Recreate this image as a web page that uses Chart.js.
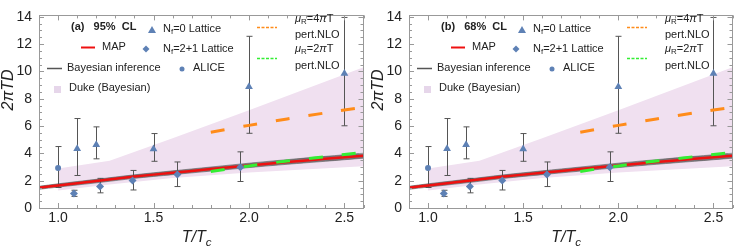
<!DOCTYPE html>
<html>
<head>
<meta charset="utf-8">
<script src="https://cdn.jsdelivr.net/npm/chart.js@4/dist/chart.umd.min.js"></script>
<style>
  body { margin: 0; background: #fff; width: 737px; height: 248px; position: relative; overflow: hidden; }
  canvas { position: absolute; top: 0; }
</style>
</head>
<body>
<canvas id="chartA" width="368" height="248" style="left:0"></canvas>
<canvas id="chartB" width="367" height="248" style="left:370px"></canvas>
<script>
// ---- data ----
const xTicks = [1.0, 1.5, 2.0, 2.5];
const yTicks = [0, 2, 4, 6, 8, 10, 12, 14];

// MAP curve and Bayesian (grey) band
const tGrid = [0.9, 1.0, 1.2, 1.4, 1.6, 1.8, 2.0, 2.2, 2.4, 2.6];
const mapCurve = [1.48, 1.65, 1.97, 2.30, 2.58, 2.85, 3.12, 3.37, 3.60, 3.83];
const bayesHi = [1.59, 1.77, 2.10, 2.43, 2.72, 3.00, 3.28, 3.54, 3.78, 4.01];
const bayesLo = [1.37, 1.53, 1.84, 2.17, 2.44, 2.70, 2.96, 3.20, 3.42, 3.65];

// Duke (Bayesian) band
const dukeT = [1.0, 1.27, 1.6, 2.0, 2.6];
const dukeHi = [2.9, 3.45, 5.1, 7.15, 10.3];
const dukeLo = [1.28, 1.72, 2.2, 2.6, 3.05];

// perturbative NLO
const nloT = [1.8, 2.0, 2.2, 2.4, 2.6];
const nlo4pi = [5.55, 6.05, 6.52, 6.96, 7.38];
const nlo2pi = [2.68, 3.08, 3.44, 3.76, 4.07];

// lattice and ALICE points with error ranges
const nf0T = [1.1, 1.2, 1.5, 2.0, 2.5];
const nf0D = [4.33, 4.63, 4.32, 8.88, 9.85];
const nf0Lo = [2.38, 3.60, 3.42, 5.47, 6.02];
const nf0Hi = [6.55, 5.94, 5.45, 12.57, 13.95];

const nf21T = [1.083, 1.22, 1.39, 1.625, 1.955];
const nf21D = [1.06, 1.57, 2.01, 2.45, 2.98];
const nf21Lo = [0.85, 1.11, 1.32, 1.57, 1.94];
const nf21Hi = [1.30, 2.17, 2.75, 3.37, 4.11];

const aliceT = [1.0];
const aliceD = [2.93];
const aliceLo = [1.5];
const aliceHi = [4.5];

const blue = '#5e81b5';
const FONT = "'Liberation Sans', Arial, sans-serif";

function pts(xs, ys) {
  return xs.map((x, i) => ({ x: x, y: ys[i] }));
}
function errPts(xs, ys, lo, hi) {
  return xs.map((x, i) => ({ x: x, y: ys[i], lo: lo[i], hi: hi[i] }));
}

// draw a run of text pieces, some italic or subscript
function richText(ctx, x, y, parts, size) {
  ctx.save();
  ctx.textBaseline = 'middle';
  ctx.textAlign = 'left';
  ctx.fillStyle = '#222';
  parts.forEach(p => {
    const s = p.sub ? size * 0.72 : size;
    ctx.font = (p.italic ? 'italic ' : '') + (p.bold ? 'bold ' : '') + s + 'px ' + FONT;
    const dy = p.sub ? size * 0.28 : 0;
    ctx.fillText(p.t, x, y + dy);
    x += ctx.measureText(p.t).width;
  });
  ctx.restore();
}

function drawLegend(ctx, panelLabel) {
  const fs = 11;
  richText(ctx, 71, 27, [{ t: panelLabel, bold: true }], fs);

  // Nf=0 triangle
  ctx.fillStyle = blue;
  ctx.beginPath();
  ctx.moveTo(152, 26); ctx.lineTo(156, 33); ctx.lineTo(148, 33); ctx.closePath();
  ctx.fill();
  richText(ctx, 163, 29, [{ t: 'N' }, { t: 'f', sub: true }, { t: '=0 Lattice' }], fs);

  // MAP
  ctx.strokeStyle = '#ee1111'; ctx.lineWidth = 2;
  ctx.beginPath(); ctx.moveTo(81, 47.5); ctx.lineTo(95, 47.5); ctx.stroke();
  richText(ctx, 102, 47, [{ t: 'MAP' }], fs);

  // Nf=2+1 diamond
  ctx.fillStyle = blue;
  ctx.beginPath();
  ctx.moveTo(146, 45.5); ctx.lineTo(149.5, 49); ctx.lineTo(146, 52.5); ctx.lineTo(142.5, 49); ctx.closePath();
  ctx.fill();
  richText(ctx, 163, 49, [{ t: 'N' }, { t: 'f', sub: true }, { t: '=2+1 Lattice' }], fs);

  // Bayesian inference
  ctx.strokeStyle = '#555'; ctx.lineWidth = 1.5;
  ctx.beginPath(); ctx.moveTo(47, 68.5); ctx.lineTo(62, 68.5); ctx.stroke();
  richText(ctx, 67, 68, [{ t: 'Bayesian inference' }], fs);

  // ALICE
  ctx.fillStyle = blue;
  ctx.beginPath(); ctx.arc(182, 69, 2.5, 0, Math.PI * 2); ctx.fill();
  richText(ctx, 193, 68, [{ t: 'ALICE' }], fs);

  // Duke
  ctx.fillStyle = '#e6d6ea';
  ctx.fillRect(54, 86, 7, 7);
  richText(ctx, 69, 88, [{ t: 'Duke (Bayesian)' }], fs);

  // NLO entries
  ctx.lineWidth = 1.5;
  ctx.setLineDash([3, 1.5]);
  ctx.strokeStyle = '#ff8c1a';
  ctx.beginPath(); ctx.moveTo(257, 27.5); ctx.lineTo(277, 27.5); ctx.stroke();
  ctx.strokeStyle = '#33ee33';
  ctx.beginPath(); ctx.moveTo(257, 58.5); ctx.lineTo(277, 58.5); ctx.stroke();
  ctx.setLineDash([]);
  richText(ctx, 295, 19, [{ t: 'μ', italic: true }, { t: 'R', sub: true }, { t: '=4' }, { t: 'π', italic: true }, { t: 'T' }], fs);
  richText(ctx, 295, 35, [{ t: 'pert.NLO' }], fs);
  richText(ctx, 295, 49, [{ t: 'μ', italic: true }, { t: 'R', sub: true }, { t: '=2' }, { t: 'π', italic: true }, { t: 'T' }], fs);
  richText(ctx, 295, 66, [{ t: 'pert.NLO' }], fs);
}

// error bars, drawn right after the Duke band so they sit above it
const errorBars = {
  id: 'errorBars',
  afterDatasetDraw(chart, args) {
    if (chart.data.datasets[args.index].id !== 'dukeHi') return;
    const ctx = chart.ctx, xs = chart.scales.x, ys = chart.scales.y;
    ctx.save();
    ctx.strokeStyle = '#555';
    ctx.lineWidth = 1;
    chart.data.datasets.forEach(ds => {
      if (!ds.errors) return;
      ds.data.forEach(p => {
        const px = Math.round(xs.getPixelForValue(p.x)) + 0.5;
        const top = ys.getPixelForValue(p.hi), bot = ys.getPixelForValue(p.lo);
        ctx.beginPath();
        ctx.moveTo(px, top); ctx.lineTo(px, bot);
        ctx.moveTo(px - 3, top); ctx.lineTo(px + 3, top);
        ctx.moveTo(px - 3, bot); ctx.lineTo(px + 3, bot);
        ctx.stroke();
      });
    });
    ctx.restore();
  }
};

// frame with inward ticks, axis titles and the in-plot legend
const frame = {
  id: 'frame',
  afterDraw(chart) {
    const ctx = chart.ctx, a = chart.chartArea;
    const xs = chart.scales.x, ys = chart.scales.y;
    ctx.save();
    ctx.strokeStyle = '#999';
    ctx.lineWidth = 1;
    ctx.strokeRect(Math.round(a.left) + 0.5, Math.round(a.top) + 0.5,
      Math.round(a.right - a.left) - 1, Math.round(a.bottom - a.top));
    ctx.beginPath();
    for (let v = 0.9; v <= 2.601; v += 0.1) {
      const px = Math.round(xs.getPixelForValue(v)) + 0.5;
      const major = Math.abs(v * 2 - Math.round(v * 2)) < 0.01;
      const len = major ? 5 : 3;
      ctx.moveTo(px, a.bottom); ctx.lineTo(px, a.bottom - len);
      ctx.moveTo(px, a.top); ctx.lineTo(px, a.top + len);
    }
    for (let v = 0; v <= 14.01; v += 0.5) {
      const py = Math.round(ys.getPixelForValue(v)) + 0.5;
      const len = (v % 2 === 0) ? 5 : 3;
      ctx.moveTo(a.left, py); ctx.lineTo(a.left + len, py);
      ctx.moveTo(a.right, py); ctx.lineTo(a.right - len, py);
    }
    ctx.stroke();

    // axis titles
    const cx = (a.left + a.right) / 2 - 5;
    ctx.font = 'italic 16px ' + FONT;
    const w1 = ctx.measureText('T/T').width;
    richText(ctx, cx - (w1 + 5) / 2, 238, [{ t: 'T/T', italic: true }, { t: 'c', italic: true, sub: true }], 16);
    ctx.translate(9, 90);
    ctx.rotate(-Math.PI / 2);
    ctx.font = 'italic 16px ' + FONT;
    ctx.fillStyle = '#222';
    ctx.textAlign = 'center';
    ctx.textBaseline = 'middle';
    ctx.fillText('2πTD', 0, 0);
    ctx.restore();

    ctx.save();
    drawLegend(ctx, chart.options.plugins.frame.label);
    ctx.restore();
  }
};

function makeChart(id, label) {
  const lineDs = (ident, xs, ys, color, width, order, extra) => Object.assign({
    id: ident, data: pts(xs, ys), showLine: true, borderColor: color, borderWidth: width,
    pointRadius: 0, fill: false, order: order, tension: 0.3
  }, extra || {});

  const datasets = [
    { id: 'nf0', data: errPts(nf0T, nf0D, nf0Lo, nf0Hi), errors: true, pointStyle: 'triangle',
      pointRadius: 4.5, backgroundColor: blue, borderColor: blue, borderWidth: 0, order: 0 },
    { id: 'nf21', data: errPts(nf21T, nf21D, nf21Lo, nf21Hi), errors: true, pointStyle: 'rectRot',
      pointRadius: 4, backgroundColor: blue, borderColor: blue, borderWidth: 0, order: 0 },
    { id: 'alice', data: errPts(aliceT, aliceD, aliceLo, aliceHi), errors: true, pointStyle: 'circle',
      pointRadius: 3, backgroundColor: blue, borderColor: blue, borderWidth: 0, order: 0 },
    lineDs('nlo2', nloT, nlo2pi, '#33ee33', 3, 1, { borderDash: [14, 19] }),
    lineDs('nlo4', nloT, nlo4pi, '#ff8c1a', 3, 2, { borderDash: [14, 19] }),
    lineDs('map', tGrid, mapCurve, '#ee1111', 2.5, 3),
    lineDs('bayesHi', tGrid, bayesHi, 'rgba(80,80,80,0.55)', 1, 4,
      { fill: '+1', backgroundColor: 'rgba(85,85,85,0.75)' }),
    lineDs('bayesLo', tGrid, bayesLo, 'rgba(80,80,80,0.55)', 1, 4),
    lineDs('dukeHi', dukeT, dukeHi, 'rgba(0,0,0,0)', 0, 6,
      { fill: '+1', backgroundColor: 'rgb(240,224,240)', tension: 0 }),
    lineDs('dukeLo', dukeT, dukeLo, 'rgba(0,0,0,0)', 0, 6, { tension: 0 })
  ];

  const tickFont = { family: FONT, size: 14 };
  return new Chart(document.getElementById(id), {
    type: 'scatter',
    data: { datasets: datasets },
    options: {
      responsive: false,
      animation: false,
      layout: { padding: { top: 4, right: id === 'chartA' ? 3 : 0, left: 0, bottom: 0 } },
      plugins: { legend: { display: false }, tooltip: { enabled: false }, frame: { label: label } },
      scales: {
        x: {
          type: 'linear', min: 0.9, max: 2.6,
          afterBuildTicks: s => { s.ticks = xTicks.map(v => ({ value: v })); },
          afterFit: s => { s.height = 40; },
          grid: { display: false, drawTicks: false },
          border: { display: false },
          ticks: { font: tickFont, color: '#222', padding: 2, maxRotation: 0, autoSkip: false,
            callback: v => v.toFixed(1) }
        },
        y: {
          type: 'linear', min: 0, max: 14.1,
          afterBuildTicks: s => { s.ticks = yTicks.map(v => ({ value: v })); },
          afterFit: s => { s.width = 39; },
          grid: { display: false, drawTicks: false },
          border: { display: false },
          ticks: { font: tickFont, color: '#222', padding: 7, callback: v => String(v) }
        }
      }
    },
    plugins: [errorBars, frame]
  });
}

makeChart('chartA', '(a)   95%  CL');
makeChart('chartB', '(b)   68%  CL');
</script>
</body>
</html>
